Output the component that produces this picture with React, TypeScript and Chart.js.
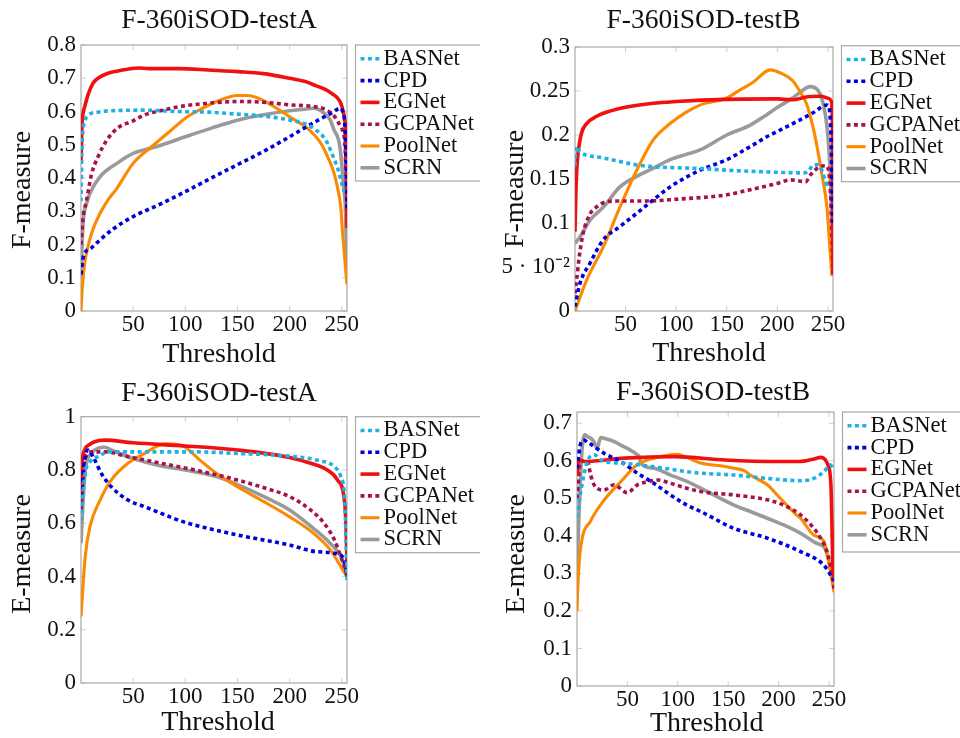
import React, { useEffect, useRef } from "react";
import { Chart, registerables } from "chart.js";

Chart.register(...registerables);

// ---------------- Labels & ticks ----------------
const SERIES_NAMES = ["BASNet", "CPD", "EGNet", "GCPANet", "PoolNet", "SCRN"];
const THRESHOLD_TICKS = [50, 100, 150, 200, 250];
const X_MIN = 0;
const X_MAX = 255;
const X_TITLE = "Threshold";

const PANEL_TITLES = ["F-360iSOD-testA", "F-360iSOD-testB", "F-360iSOD-testA", "F-360iSOD-testB"];
const Y_TITLES = ["F-measure", "F-measure", "E-measure", "E-measure"];
const Y_MAX = [0.8, 0.3, 1, 0.73];

const FA_Y_TICKS = [0, 0.1, 0.2, 0.3, 0.4, 0.5, 0.6, 0.7, 0.8];
const FA_Y_LABELS = ["0", "0.1", "0.2", "0.3", "0.4", "0.5", "0.6", "0.7", "0.8"];
const FB_Y_TICKS = [0, 0.05, 0.1, 0.15, 0.2, 0.25, 0.3];
const FB_Y_LABELS = ["0", "5 \u00b7 10\u207b\u00b2", "0.1", "0.15", "0.2", "0.25", "0.3"];
const EA_Y_TICKS = [0, 0.2, 0.4, 0.6, 0.8, 1];
const EA_Y_LABELS = ["0", "0.2", "0.4", "0.6", "0.8", "1"];
const EB_Y_TICKS = [0, 0.1, 0.2, 0.3, 0.4, 0.5, 0.6, 0.7];
const EB_Y_LABELS = ["0", "0.1", "0.2", "0.3", "0.4", "0.5", "0.6", "0.7"];

type Pt = [number, number]; // [threshold, value]

// ---------------- F-measure, testA ----------------
const FA_BASNET: Pt[] = [[0, 0.33], [1, 0.5], [2, 0.545], [3.5, 0.57], [6.7, 0.588], [16, 0.598], [35, 0.603], [60, 0.604], [93, 0.6], [122, 0.598], [150, 0.592], [178, 0.585], [204, 0.572], [217, 0.56], [225, 0.545], [235, 0.512], [242, 0.462], [246, 0.43], [249, 0.395], [252, 0.36]];
const FA_CPD: Pt[] = [[0, 0.11], [2.2, 0.163], [10, 0.19], [18.3, 0.214], [30, 0.245], [50, 0.284], [75, 0.32], [100, 0.359], [125, 0.4], [150, 0.44], [175, 0.48], [200, 0.524], [225, 0.57], [240, 0.595], [249, 0.61], [251, 0.6], [252.5, 0.58], [254, 0.45], [255, 0.3]];
const FA_EGNET: Pt[] = [[0, 0.45], [1, 0.56], [2, 0.595], [3.5, 0.614], [6.7, 0.65], [11.5, 0.685], [16.3, 0.7], [25.8, 0.715], [35.6, 0.722], [55, 0.731], [65, 0.729], [94, 0.729], [122, 0.725], [150, 0.72], [175, 0.714], [200, 0.7], [215, 0.69], [225, 0.678], [235, 0.665], [240, 0.655], [246, 0.64], [249, 0.625], [251, 0.605], [252.5, 0.58], [254, 0.52], [254.7, 0.4], [255, 0.25]];
const FA_GCPANET: Pt[] = [[0, 0.2], [2, 0.28], [5.4, 0.334], [10, 0.41], [16.3, 0.464], [25, 0.515], [35, 0.55], [50, 0.572], [61, 0.59], [80, 0.605], [93, 0.614], [122, 0.625], [150, 0.63], [175, 0.628], [200, 0.62], [223, 0.615], [235, 0.605], [243, 0.585], [248, 0.56], [251, 0.54], [253, 0.5], [254, 0.42], [255, 0.3]];
const FA_POOLNET: Pt[] = [[0, 0], [1, 0.06], [2, 0.1], [4, 0.153], [8, 0.21], [12, 0.25], [18.3, 0.294], [25, 0.33], [34.4, 0.369], [50, 0.444], [67.7, 0.494], [85, 0.54], [100, 0.58], [115, 0.607], [130, 0.63], [150, 0.648], [160, 0.648], [170, 0.64], [178.5, 0.627], [190, 0.605], [200, 0.584], [210, 0.565], [217, 0.55], [230, 0.504], [237, 0.46], [242.6, 0.415], [246, 0.37], [249, 0.314], [250.8, 0.234], [252.5, 0.17], [254, 0.114], [255, 0.08]];
const FA_SCRN: Pt[] = [[0, 0.1], [1, 0.2], [2.2, 0.274], [5, 0.32], [8.6, 0.354], [18.3, 0.404], [34.4, 0.444], [50, 0.474], [72, 0.494], [100, 0.524], [125, 0.55], [150, 0.574], [175, 0.59], [200, 0.602], [215, 0.607], [223, 0.61], [227, 0.607], [233, 0.595], [239, 0.574], [242.6, 0.544], [247, 0.514], [249, 0.474], [252, 0.364], [253.6, 0.3], [254.6, 0.15], [255, 0.09]];

// ---------------- F-measure, testB ----------------
const FB_BASNET: Pt[] = [[0, 0.165], [1, 0.187], [4.8, 0.181], [28, 0.174], [44, 0.17], [61, 0.166], [77, 0.164], [94, 0.163], [123, 0.162], [150, 0.16], [190, 0.158], [226, 0.157], [230, 0.158], [236, 0.166], [240, 0.166], [244, 0.16], [247, 0.15], [250, 0.141], [252, 0.14]];
const FB_CPD: Pt[] = [[0, 0.005], [4.8, 0.031], [14.7, 0.054], [28, 0.081], [44.4, 0.096], [61, 0.111], [77, 0.126], [94, 0.141], [110, 0.152], [123.5, 0.16], [150, 0.172], [175, 0.188], [189.5, 0.198], [200, 0.204], [222, 0.217], [235, 0.225], [248.7, 0.234], [251, 0.232], [253, 0.2], [254, 0.15], [255, 0.1]];
const FB_EGNET: Pt[] = [[0, 0.09], [1, 0.14], [2, 0.165], [3, 0.179], [6.4, 0.202], [11.5, 0.213], [21, 0.221], [44, 0.23], [77, 0.236], [100, 0.238], [150, 0.2405], [200, 0.241], [215, 0.24], [230, 0.2435], [243, 0.244], [251, 0.2415], [253.5, 0.238], [254.5, 0.2], [255, 0.043]];
const FB_GCPANET: Pt[] = [[0, 0.02], [1.6, 0.035], [4, 0.06], [8, 0.088], [14.7, 0.11], [21, 0.118], [28, 0.123], [40, 0.125], [70, 0.125], [100, 0.127], [150, 0.132], [170, 0.137], [200, 0.145], [213, 0.149], [228, 0.147], [233, 0.155], [242, 0.164], [248, 0.165], [251, 0.157], [253, 0.12], [255, 0.04]];
const FB_POOLNET: Pt[] = [[0, 0], [11.5, 0.035], [28, 0.073], [44.4, 0.118], [61, 0.16], [77, 0.194], [94, 0.213], [110, 0.226], [123.5, 0.234], [150, 0.242], [160, 0.249], [176, 0.26], [193, 0.274], [204, 0.27], [215, 0.262], [222, 0.25], [229, 0.235], [235, 0.21], [239, 0.188], [244, 0.155], [249, 0.118], [252, 0.07], [254, 0.04]];
const FB_SCRN: Pt[] = [[0, 0.077], [4.8, 0.084], [14.7, 0.103], [28, 0.118], [44.4, 0.141], [61, 0.153], [77, 0.162], [94, 0.172], [110, 0.178], [123.5, 0.183], [150, 0.2], [172.8, 0.211], [189.5, 0.223], [201, 0.232], [215, 0.242], [223, 0.249], [232, 0.255], [240, 0.251], [246, 0.232], [249, 0.21], [251, 0.183], [252.5, 0.15], [254, 0.088], [255, 0.04]];

// ---------------- E-measure, testA ----------------
const EA_BASNET: Pt[] = [[0, 0.61], [3.5, 0.775], [10, 0.837], [16.6, 0.85], [26, 0.868], [45, 0.868], [109, 0.868], [150, 0.862], [200, 0.852], [226, 0.837], [243, 0.812], [249, 0.775], [253, 0.675], [255, 0.387]];
const EA_CPD: Pt[] = [[0, 0.7], [3.5, 0.837], [6.7, 0.875], [11.5, 0.85], [19.5, 0.787], [29, 0.737], [45, 0.687], [61, 0.662], [77, 0.637], [93, 0.612], [109, 0.593], [150, 0.556], [200, 0.518], [226, 0.493], [249, 0.48], [253, 0.45], [255, 0.4]];
const EA_EGNET: Pt[] = [[0, 0.7], [1, 0.82], [3.5, 0.875], [8, 0.895], [13, 0.906], [22.6, 0.912], [50, 0.902], [100, 0.89], [150, 0.875], [200, 0.847], [220, 0.825], [236, 0.8], [246, 0.762], [252, 0.7], [254, 0.6], [255, 0.45]];
const EA_GCPANET: Pt[] = [[0, 0.65], [3.5, 0.837], [10, 0.868], [23, 0.868], [45, 0.85], [77, 0.825], [109, 0.8], [150, 0.762], [178, 0.73], [200, 0.7], [220, 0.65], [233, 0.6], [243, 0.537], [249, 0.475], [253.6, 0.424], [255, 0.4]];
const EA_POOLNET: Pt[] = [[0, 0.25], [4, 0.474], [8.6, 0.587], [18.3, 0.687], [29, 0.762], [45, 0.825], [61, 0.862], [80, 0.898], [88.5, 0.897], [100, 0.885], [114, 0.837], [130, 0.787], [150, 0.737], [178, 0.675], [200, 0.624], [223, 0.562], [239, 0.5], [252, 0.418], [255, 0.4]];
const EA_SCRN: Pt[] = [[0, 0.525], [3.5, 0.775], [10, 0.862], [23, 0.885], [29, 0.875], [50, 0.843], [77, 0.815], [100, 0.8], [130, 0.775], [150, 0.745], [178, 0.695], [200, 0.65], [223, 0.58], [239, 0.524], [249, 0.475], [255, 0.41]];

// ---------------- E-measure, testB ----------------
const EB_BASNET: Pt[] = [[0, 0.45], [3.7, 0.518], [10.3, 0.598], [16.9, 0.616], [26.8, 0.598], [43.3, 0.594], [76.3, 0.584], [109, 0.571], [122.7, 0.567], [155.7, 0.562], [188.8, 0.553], [221.8, 0.547], [235, 0.553], [245, 0.571], [251.5, 0.589], [254, 0.58]];
const EB_CPD: Pt[] = [[0, 0.58], [3.7, 0.647], [7, 0.655], [10.3, 0.65], [26.8, 0.62], [43.3, 0.598], [60, 0.567], [76.3, 0.54], [92.8, 0.509], [109, 0.482], [122.7, 0.465], [155.7, 0.42], [188.8, 0.394], [221.8, 0.358], [245, 0.322], [251.5, 0.296], [255, 0.28]];
const EB_EGNET: Pt[] = [[0, 0.56], [2, 0.602], [7.6, 0.598], [47, 0.607], [97, 0.611], [147, 0.602], [197, 0.598], [221, 0.598], [234, 0.604], [242, 0.609], [249, 0.589], [252, 0.531], [254, 0.309], [255, 0.28]];
const EB_GCPANET: Pt[] = [[0, 0.5], [3.5, 0.6], [10.3, 0.598], [13.6, 0.562], [16.9, 0.536], [26.8, 0.522], [36.7, 0.536], [50, 0.515], [60, 0.536], [70, 0.544], [80, 0.549], [92.8, 0.54], [109, 0.527], [122.7, 0.518], [155.7, 0.509], [188.8, 0.496], [205, 0.482], [221.8, 0.456], [235, 0.42], [241.7, 0.394], [248, 0.358], [253, 0.3], [255, 0.26]];
const EB_POOLNET: Pt[] = [[0, 0.2], [0.6, 0.25], [3, 0.354], [13.6, 0.44], [26.8, 0.495], [43.3, 0.544], [60, 0.59], [76.3, 0.607], [92.8, 0.616], [100, 0.617], [109, 0.609], [122.7, 0.594], [147, 0.585], [155.7, 0.58], [166, 0.574], [172, 0.562], [188.8, 0.536], [200, 0.505], [205, 0.491], [216, 0.46], [221.8, 0.447], [235, 0.402], [245, 0.385], [251.5, 0.305], [255, 0.25]];
const EB_SCRN: Pt[] = [[0, 0.3], [2, 0.46], [5, 0.63], [8, 0.669], [10, 0.665], [13.6, 0.66], [17, 0.65], [20, 0.633], [23.5, 0.662], [26.8, 0.66], [37, 0.651], [43.3, 0.642], [50, 0.633], [60, 0.616], [62, 0.61], [63, 0.594], [76.3, 0.58], [92.8, 0.562], [109, 0.545], [122.7, 0.527], [155.7, 0.482], [172, 0.465], [188.8, 0.447], [205, 0.429], [221.8, 0.407], [238, 0.38], [246, 0.367], [250, 0.331], [255, 0.269]];

// ---------------- Styles ----------------
const SERIES_COLORS = ["#1eb1e6", "#0000dc", "#f01010", "#a8124c", "#fb8a00", "#9a9a9a"];
const SERIES_DASHES: number[][] = [[4, 3.4], [4, 3.4], [], [4, 3.4], [], []];
const SERIES_WIDTHS = [3.6, 3.6, 3.6, 3.6, 3.1, 3.6];
const FONT_FAMILY = '"Liberation Serif", "Times New Roman", serif';
const TEXT_COLOR = "#111";
const FRAME_COLOR = "#a8a8a8";
const TICK_MARK_COLOR = "#cfcfcf";
const TICK_FONT_SIZE = 23;
const TITLE_FONT_SIZE = 27.5;
const AXIS_TITLE_FONT_SIZE = 28;
const LEGEND_FONT_SIZE = 22.5;

type Layout = {
  left: number; top: number; w: number; h: number;
  padTop: number; padRight: number; yWidth: number; xHeight: number;
  title: [number, number]; xTitle: [number, number]; yTitle: [number, number];
  legendDY: number; legendH: number;
};

const LAYOUTS: Layout[] = [
  { left: 0, top: 0, w: 480, h: 371, padTop: 45, padRight: 133, yWidth: 81, xHeight: 60, title: [219, 20.5], xTitle: [219, 355], yTitle: [22.5, 190], legendDY: 0, legendH: 136 },
  { left: 480, top: 0, w: 480, h: 371, padTop: 47, padRight: 127, yWidth: 95, xHeight: 60, title: [223.5, 21], xTitle: [229, 354], yTitle: [36, 189], legendDY: -1.3, legendH: 136 },
  { left: 0, top: 370, w: 480, h: 369, padTop: 46.7, padRight: 133, yWidth: 81, xHeight: 56, title: [219, 24], xTitle: [218, 353], yTitle: [22.5, 184], legendDY: 0, legendH: 136 },
  { left: 480, top: 370, w: 480, h: 369, padTop: 42, padRight: 126, yWidth: 97, xHeight: 53, title: [233, 23], xTitle: [226.7, 354], yTitle: [36.7, 184], legendDY: 0, legendH: 140 },
];

type PanelSpec = {
  series: Pt[][];
  yTicks: number[];
  yLabels: string[];
  yMax: number;
  title: string;
  yTitle: string;
  layout: Layout;
};

const PANELS: PanelSpec[] = [
  { series: [FA_BASNET, FA_CPD, FA_EGNET, FA_GCPANET, FA_POOLNET, FA_SCRN], yTicks: FA_Y_TICKS, yLabels: FA_Y_LABELS, yMax: Y_MAX[0], title: PANEL_TITLES[0], yTitle: Y_TITLES[0], layout: LAYOUTS[0] },
  { series: [FB_BASNET, FB_CPD, FB_EGNET, FB_GCPANET, FB_POOLNET, FB_SCRN], yTicks: FB_Y_TICKS, yLabels: FB_Y_LABELS, yMax: Y_MAX[1], title: PANEL_TITLES[1], yTitle: Y_TITLES[1], layout: LAYOUTS[1] },
  { series: [EA_BASNET, EA_CPD, EA_EGNET, EA_GCPANET, EA_POOLNET, EA_SCRN], yTicks: EA_Y_TICKS, yLabels: EA_Y_LABELS, yMax: Y_MAX[2], title: PANEL_TITLES[2], yTitle: Y_TITLES[2], layout: LAYOUTS[2] },
  { series: [EB_BASNET, EB_CPD, EB_EGNET, EB_GCPANET, EB_POOLNET, EB_SCRN], yTicks: EB_Y_TICKS, yLabels: EB_Y_LABELS, yMax: Y_MAX[3], title: PANEL_TITLES[3], yTitle: Y_TITLES[3], layout: LAYOUTS[3] },
];

function Panel({ spec }: { spec: PanelSpec }) {
  const ref = useRef<HTMLCanvasElement | null>(null);
  const L = spec.layout;

  useEffect(() => {
    const canvas = ref.current;
    if (!canvas) return;

    const deco = {
      id: "deco",
      beforeDatasetsDraw(chart: any) {
        const { ctx, chartArea: a, scales } = chart;
        ctx.save();
        // inward tick marks
        ctx.strokeStyle = TICK_MARK_COLOR;
        ctx.lineWidth = 1;
        ctx.beginPath();
        for (const t of scales.x.ticks) {
          const px = scales.x.getPixelForValue(t.value);
          ctx.moveTo(px, a.bottom); ctx.lineTo(px, a.bottom - 5);
          ctx.moveTo(px, a.top); ctx.lineTo(px, a.top + 5);
        }
        for (const t of scales.y.ticks) {
          const py = scales.y.getPixelForValue(t.value);
          ctx.moveTo(a.left, py); ctx.lineTo(a.left + 5, py);
          ctx.moveTo(a.right, py); ctx.lineTo(a.right - 5, py);
        }
        ctx.stroke();
        // frame
        ctx.strokeStyle = FRAME_COLOR;
        ctx.lineWidth = 1.2;
        ctx.strokeRect(a.left, a.top, a.right - a.left, a.bottom - a.top);
        ctx.restore();
      },
      afterDraw(chart: any) {
        const { ctx, chartArea: a } = chart;
        ctx.save();
        ctx.fillStyle = TEXT_COLOR;
        ctx.textBaseline = "middle";
        ctx.textAlign = "center";
        // panel title
        ctx.font = `${TITLE_FONT_SIZE}px ${FONT_FAMILY}`;
        ctx.fillText(spec.title, L.title[0], L.title[1]);
        // axis titles
        ctx.font = `${AXIS_TITLE_FONT_SIZE}px ${FONT_FAMILY}`;
        ctx.fillText(X_TITLE, L.xTitle[0], L.xTitle[1]);
        ctx.save();
        ctx.translate(L.yTitle[0], L.yTitle[1]);
        ctx.rotate(-Math.PI / 2);
        ctx.fillText(spec.yTitle, 0, 0);
        ctx.restore();

        // legend box
        const bx = a.right + 8.5;
        const by = a.top + L.legendDY;
        const bw = 127;
        ctx.fillStyle = "#fff";
        ctx.fillRect(bx, by, bw, L.legendH);
        ctx.strokeStyle = FRAME_COLOR;
        ctx.lineWidth = 1.2;
        ctx.strokeRect(bx, by, bw, L.legendH);
        ctx.font = `${LEGEND_FONT_SIZE}px ${FONT_FAMILY}`;
        ctx.textAlign = "left";
        chart.data.datasets.forEach((ds: any, i: number) => {
          const cy = by + 13.8 + i * 21.8;
          ctx.save();
          ctx.strokeStyle = ds.borderColor;
          ctx.lineWidth = ds.borderWidth;
          ctx.setLineDash(ds.borderDash || []);
          ctx.lineCap = "butt";
          ctx.beginPath();
          ctx.moveTo(bx + 5, cy);
          ctx.lineTo(bx + 24, cy);
          ctx.stroke();
          ctx.restore();
          ctx.fillStyle = TEXT_COLOR;
          ctx.fillText(ds.label, bx + 28, cy);
        });
        ctx.restore();
      },
    };

    const chart = new Chart(canvas, {
      type: "line",
      data: {
        datasets: spec.series.map((pts, i) => ({
          label: SERIES_NAMES[i],
          data: pts.map(([x, y]) => ({ x, y })),
          borderColor: SERIES_COLORS[i],
          borderWidth: SERIES_WIDTHS[i],
          borderDash: SERIES_DASHES[i],
          borderCapStyle: "butt",
          borderJoinStyle: "round",
          pointRadius: 0,
          pointHoverRadius: 0,
          fill: false,
          cubicInterpolationMode: "monotone",
        })),
      },
      options: {
        responsive: false,
        animation: false,
        events: [],
        layout: { padding: { left: 0, top: L.padTop, right: L.padRight, bottom: 0 } },
        plugins: {
          legend: { display: false },
          tooltip: { enabled: false },
          title: { display: false },
        },
        scales: {
          x: {
            type: "linear",
            min: X_MIN,
            max: X_MAX,
            grid: { display: false, drawTicks: false },
            border: { display: false },
            ticks: {
              color: TEXT_COLOR,
              font: { family: FONT_FAMILY, size: TICK_FONT_SIZE },
              padding: 0,
              maxRotation: 0,
              autoSkip: false,
            },
            afterBuildTicks: (scale: any) => {
              scale.ticks = THRESHOLD_TICKS.map((v) => ({ value: v }));
            },
            afterFit: (scale: any) => {
              scale.height = L.xHeight;
            },
          },
          y: {
            type: "linear",
            min: 0,
            max: spec.yMax,
            grid: { display: false, drawTicks: false },
            border: { display: false },
            ticks: {
              color: TEXT_COLOR,
              font: { family: FONT_FAMILY, size: TICK_FONT_SIZE },
              padding: 5,
              autoSkip: false,
              callback: (_v: any, idx: number) => spec.yLabels[idx],
            },
            afterBuildTicks: (scale: any) => {
              scale.ticks = spec.yTicks.map((v) => ({ value: v }));
            },
            afterFit: (scale: any) => {
              scale.width = L.yWidth;
            },
          },
        },
      } as any,
      plugins: [deco],
    });

    return () => chart.destroy();
  }, [spec]);

  return (
    <canvas
      ref={ref}
      width={L.w}
      height={L.h}
      style={{ position: "absolute", left: L.left, top: L.top, width: L.w, height: L.h }}
    />
  );
}

export default function App() {
  return (
    <div
      style={{
        position: "fixed",
        left: 0,
        top: 0,
        width: 960,
        height: 738,
        background: "#fff",
        overflow: "hidden",
      }}
    >
      {PANELS.map((p, i) => (
        <Panel key={i} spec={p} />
      ))}
    </div>
  );
}
